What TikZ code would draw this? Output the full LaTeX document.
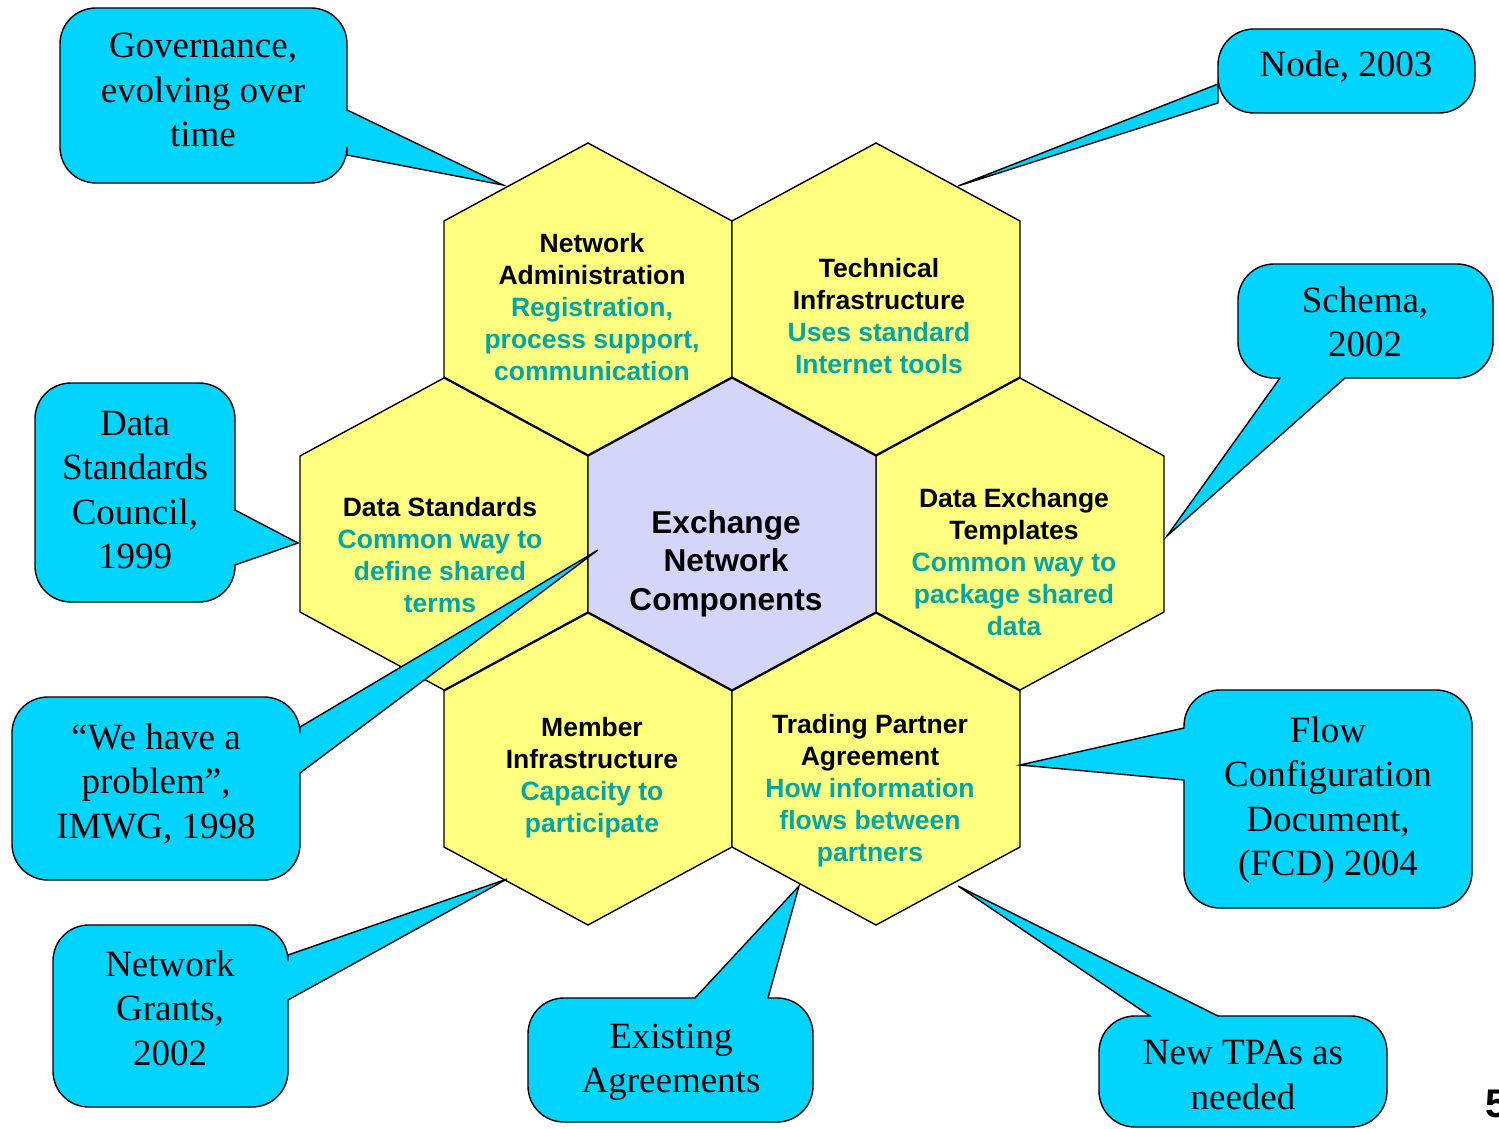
\documentclass[tikz,border=0pt]{standalone}
\usepackage{fontspec}
\setmainfont{Liberation Serif}
\newfontfamily\hexfont{Liberation Sans}
\definecolor{hexyellow}{RGB}{255,255,128}
\definecolor{hexlav}{RGB}{213,213,250}
\definecolor{tealtxt}{RGB}{0,166,166}
\definecolor{callcyan}{RGB}{0,212,255}
\newcommand\R{36}
\newcommand\K{16}
\newcommand\hexagon[3]{%
  \filldraw[hexline, fill=#3] (#1,#2-156) -- (#1+144,#2-78) -- (#1+144,#2+78) -- (#1,#2+156) -- (#1-144,#2+78) -- (#1-144,#2-78) -- cycle;}
% x1,y1,x2,y2, top insert, right insert, bottom insert, left insert
\newcommand\bubble[8]{%
  \filldraw[callout] (#1+\R,#2) #5 -- (#3-\R,#2) .. controls (#3-\K,#2) and (#3,#2+\K) .. (#3,#2+\R) #6 -- (#3,#4-\R) .. controls (#3,#4-\K) and (#3-\K,#4) .. (#3-\R,#4) #7 -- (#1+\R,#4) .. controls (#1+\K,#4) and (#1,#4-\K) .. (#1,#4-\R) #8 -- (#1,#2+\R) .. controls (#1,#2+\K) and (#1+\K,#2) .. (#1+\R,#2) -- cycle;}
\begin{document}
\begin{tikzpicture}[x=1pt,y=-1pt,
  hexline/.style={draw=black, line width=1.4pt, line join=miter},
  callout/.style={draw=black, fill=callcyan, line width=1.4pt, line join=miter},
  hextext/.style={font=\hexfont\bfseries\fontsize{26.5}{32}\selectfont, align=center, inner sep=0pt},
  centertext/.style={font=\hexfont\bfseries\fontsize{31.6}{38.5}\selectfont, align=center, inner sep=0pt},
  calltext/.style={font=\fontsize{37}{44.5}\selectfont, align=center, inner sep=0pt}]
\useasboundingbox (0,0) rectangle (1499,1129);
% hexagons
\hexagon{588}{299}{hexyellow}
\hexagon{876}{299}{hexyellow}
\hexagon{444}{534}{hexyellow}
\hexagon{1020}{534}{hexyellow}
\hexagon{588}{769}{hexyellow}
\hexagon{876}{769}{hexyellow}
\hexagon{732}{534}{hexlav}
% hexagon texts
\node[hextext] (netadmin) at (592,307) {Network\\Administration\\\textcolor{tealtxt}{Registration,}\\\textcolor{tealtxt}{process support,}\\\textcolor{tealtxt}{communication}};
\node[hextext] (techinf) at (879,316) {Technical\\Infrastructure\\\textcolor{tealtxt}{Uses standard}\\\textcolor{tealtxt}{Internet tools}};
\node[hextext] (datastd) at (440,555) {Data Standards\\\textcolor{tealtxt}{Common way to}\\\textcolor{tealtxt}{define shared}\\\textcolor{tealtxt}{terms}};
\node[hextext] (dataex) at (1014,562) {Data Exchange\\Templates\\\textcolor{tealtxt}{Common way to}\\\textcolor{tealtxt}{package shared}\\\textcolor{tealtxt}{data}};
\node[hextext] (member) at (592,778) {Member\\Infrastructure\\\textcolor{tealtxt}{Capacity to}\\\textcolor{tealtxt}{participate}};
\node[hextext] (trading) at (870,791) {Trading Partner\\Agreement\\\textcolor{tealtxt}{How information}\\\textcolor{tealtxt}{flows between}\\\textcolor{tealtxt}{partners}};
\node[centertext] (center) at (726,563.5) {Exchange\\Network\\Components};
% callouts
\bubble{60}{8}{347}{183}{}{-- (347,110) -- (503,185) -- (347,155)}{}{}
\bubble{1218}{29}{1475}{113}{}{}{}{-- (1218,103) -- (958,186) -- (1218,84)}
\bubble{1238}{264}{1493}{378}{}{}{-- (1345,378) -- (1167,536) -- (1280,378)}{}
\bubble{35}{383}{235}{602}{}{-- (235,510) -- (298,543) -- (235,565)}{}{}
\bubble{12}{697}{300}{880}{}{-- (300,727) -- (598,550) -- (300,773)}{}{}
\bubble{53}{925}{288}{1107}{}{-- (288,955) -- (507,879) -- (288,1000)}{}{}
\bubble{528}{998}{813}{1122}{-- (695,998) -- (799,886) -- (768,998)}{}{}{}
\bubble{1099}{1016}{1387}{1127}{-- (1150,1016) -- (958,886) -- (1218,1016)}{}{}{}
\bubble{1184}{690}{1472}{908}{}{}{}{-- (1184,780) -- (1020,765) -- (1184,728)}
% callout texts
\node[calltext] (gov) at (203,90) {Governance,\\evolving over\\time};
\node[calltext] (node) at (1346,67) {Node, 2003};
\node[calltext] (schema) at (1365,322) {Schema,\\2002};
\node[calltext] (dsc) at (135,490) {Data\\Standards\\Council,\\1999};
\node[calltext] (problem) at (156,784) {“We have a\\problem”,\\IMWG, 1998};
\node[calltext] (grants) at (170,1008) {Network\\Grants,\\2002};
\node[calltext] (existing) at (671,1062) {Existing\\Agreements};
\node[calltext] (newtpa) at (1243,1075) {New TPAs as\\needed};
\node[calltext] (fcd) at (1328,800) {Flow\\Configuration\\Document,\\(FCD) 2004};
\node[font=\hexfont\bfseries\fontsize{40}{48}\selectfont, anchor=base west, inner sep=0pt] (page) at (1485,1117) {5};
\end{tikzpicture}
\end{document}
